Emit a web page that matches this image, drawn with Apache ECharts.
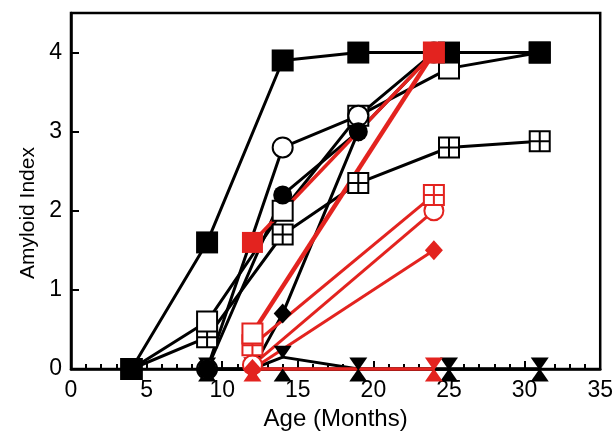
<!DOCTYPE html>
<html>
<head>
<meta charset="utf-8">
<script src="https://cdn.jsdelivr.net/npm/echarts@6/dist/echarts.min.js"></script>
<style>
  html, body { margin: 0; padding: 0; background: #fff; }
  #chart { width: 616px; height: 436px; }
</style>
</head>
<body>
<div id="chart"></div>
<script>
// age (months), amyloid index
const blackSquare   = [[4, 0], [9, 1.6], [14, 3.9], [19, 4], [25, 4], [31, 4]];
const openSquare    = [[4, 0], [9, 0.6], [14, 2.0], [19, 3.2], [25, 3.8], [31, 4]];
const crossSquare   = [[4, 0], [9, 0.4], [14, 1.7], [19, 2.35], [25, 2.8], [31, 2.88]];
const openCircle    = [[9, 0], [14, 2.8], [19, 3.2], [24, 4]];
const blackCircle   = [[9, 0], [14, 2.2], [19, 3.0], [24, 4]];
const blackDiamond  = [[9, 0], [12, 0], [14, 0.7], [19, 3.0], [24, 4]];
const triDown       = [[9, 0], [12, 0], [14, 0.15], [19, 0], [25, 0], [31, 0]];
const triUp         = [[9, 0], [14, 0], [19, 0], [25, 0], [31, 0]];

const redSquare     = [[12, 1.6], [24, 4]];
const redOpenSquare = [[12, 0.45], [24, 4]];
const redCross      = [[12, 0.3], [24, 2.2]];
const redOpenCircle = [[12, 0.05], [24, 2.0]];
const redDiamond    = [[12, 0], [24, 1.5]];
const redTriDown    = [[12, 0], [24, 0]];
const redTriUp      = [[12, 0], [24, 0]];

const xTicks = [0, 5, 10, 15, 20, 25, 30, 35];
const yTicks = [0, 1, 2, 3, 4];

const BLACK = '#000000', RED = '#e3231f';
const CROSS = 'path://M0,0H10V10H0Z M10,0H20V10H10Z M0,10H10V20H0Z M10,10H20V20H10Z';

function mk(data, color, symbol, size, filled, opts) {
    opts = opts || {};
    return Object.assign({
        type: 'line',
        data: data,
        symbol: symbol,
        symbolSize: size,
        showAllSymbol: true,
        clip: false,
        lineStyle: { color: color, width: opts.lw || 3 },
        itemStyle: {
            color: filled ? color : '#fff',
            borderColor: color,
            borderWidth: filled ? 0 : 2,
            opacity: 1
        },
        emphasis: { disabled: true },
        animation: false
    }, opts.extra || {});
}

const chart = echarts.init(document.getElementById('chart'), null, { renderer: 'canvas' });

chart.setOption({
    backgroundColor: '#fff',
    animation: false,
    grid: {
        left: 71, right: 15, top: 13, bottom: 63,
        show: true, borderColor: '#000', borderWidth: 2.5
    },
    xAxis: {
        type: 'value',
        min: xTicks[0], max: xTicks[xTicks.length - 1], interval: 5,
        name: 'Age (Months)',
        nameLocation: 'middle',
        nameGap: 38,
        nameTextStyle: { fontFamily: 'Liberation Sans', fontSize: 24, color: '#000' },
        axisLine: { lineStyle: { color: '#000', width: 2.5 } },
        axisTick: { inside: true, length: 8, lineStyle: { color: '#000', width: 2 } },
        minorTick: { show: true, splitNumber: 5, length: 5, lineStyle: { color: '#000', width: 2 } },
        splitLine: { show: false },
        axisLabel: { fontFamily: 'Liberation Sans', fontSize: 23, color: '#000', margin: 10 }
    },
    yAxis: {
        type: 'value',
        min: 0, max: 4.5, interval: 1,
        name: 'Amyloid Index',
        nameLocation: 'middle',
        nameGap: 24,
        nameTextStyle: { fontFamily: 'Liberation Sans', fontSize: 21, color: '#000', padding: [0, 44, 0, 0] },
        axisLine: { lineStyle: { color: '#000', width: 2.5 } },
        axisTick: { inside: true, length: 8, lineStyle: { color: '#000', width: 2 } },
        splitLine: { show: false },
        axisLabel: {
            fontFamily: 'Liberation Sans', fontSize: 23, color: '#000', margin: 9,
            formatter: v => (yTicks.indexOf(v) >= 0 ? String(v) : '')
        }
    },
    series: [
        mk(triUp, BLACK, 'triangle', [18, 13], true, { extra: { symbolOffset: [0, 6] } }),
        mk(triDown, BLACK, 'triangle', [18, 13], true, { extra: { symbolRotate: 180, symbolOffset: [0, -5] } }),
        mk(crossSquare, BLACK, CROSS, 20, false),
        mk(openSquare, BLACK, 'rect', 20, false),
        mk(blackSquare, BLACK, 'rect', 22, true),
        mk(blackDiamond, BLACK, 'diamond', [18, 20], true),
        mk(openCircle, BLACK, 'circle', 20, false),
        mk(blackCircle, BLACK, 'circle', 19, true),
        mk(redTriUp, RED, 'triangle', [18, 13], true, { extra: { symbolOffset: [0, 6] } }),
        mk(redTriDown, RED, 'triangle', [18, 13], true, { extra: { symbolRotate: 180, symbolOffset: [0, -5] } }),
        mk(redOpenCircle, RED, 'circle', 19, false),
        mk(redDiamond, RED, 'diamond', [18, 20], true),
        mk(redCross, RED, CROSS, 20, false),
        mk(redOpenSquare, RED, 'rect', 20, false, { lw: 4.5 }),
        mk(redSquare, RED, 'rect', 21, true, { lw: 3.5 })
    ]
});
</script>
</body>
</html>
